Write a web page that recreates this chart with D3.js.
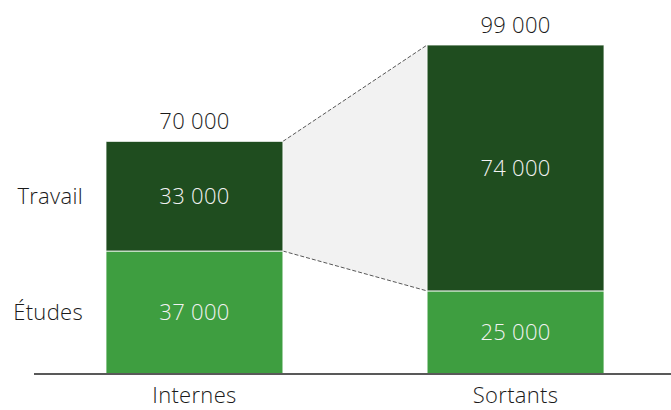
<!DOCTYPE html>
<html>
<head>
<meta charset="utf-8">
<script src="https://cdn.jsdelivr.net/npm/d3@7"></script>
<style>
  body { margin: 0; background: #fff; }
  svg text { font-family: "Segoe UI", "Open Sans", "Noto Sans", sans-serif; font-weight: 300; letter-spacing: 0.3px; }
</style>
</head>
<body>
<div></div>
<script>
var width = 671;
var height = 410;

// data
var categories = ["Internes", "Sortants"];
var series = ["Études", "Travail"];
var etudes = [37000, 25000];
var travail = [33000, 74000];
var totals = [70000, 99000];

var colors = {"Études": "#3e9e40", "Travail": "#1f4d1f"};

var rows = categories.map(function(c, i) {
  return {cat: c, "Études": etudes[i], "Travail": travail[i], total: totals[i]};
});
var stacked = d3.stack().keys(series)(rows);

var x = d3.scaleBand()
  .domain(categories)
  .range([106, 604])
  .paddingInner(0.449)
  .paddingOuter(0);

var y = d3.scaleLinear()
  .domain([0, 99000])
  .range([374, 45]);

var fmt = function(v) { return d3.format(",")(v).replace(/,/g, " "); };

var svg = d3.select("div")
  .append("svg")
  .attr("width", width)
  .attr("height", height);

// connector between the two bars (Travail part)
var a = categories[0], b = categories[1];
var x0 = x(a) + x.bandwidth(), x1 = x(b);
var topA = y(stacked[1][0][1]), botA = y(stacked[1][0][0]);
var topB = y(stacked[1][1][1]), botB = y(stacked[1][1][0]);

svg.append("path")
  .attr("d", "M" + x0 + "," + topA + "L" + x1 + "," + topB + "L" + x1 + "," + botB + "L" + x0 + "," + botA + "Z")
  .attr("fill", "#f2f2f2");

[[topA, topB], [botA, botB]].forEach(function(p) {
  svg.append("line")
    .attr("x1", x0).attr("y1", p[0])
    .attr("x2", x1).attr("y2", p[1])
    .attr("stroke", "#595959")
    .attr("stroke-width", 1)
    .attr("stroke-dasharray", "4,2");
});

// bars
var layer = svg.selectAll("g.layer")
  .data(stacked)
  .enter().append("g")
  .attr("class", "layer")
  .attr("fill", function(d) { return colors[d.key]; });

layer.selectAll("rect")
  .data(function(d) { return d; })
  .enter().append("rect")
  .attr("x", function(d) { return x(d.data.cat); })
  .attr("y", function(d) { return y(d[1]); })
  .attr("width", x.bandwidth())
  .attr("height", function(d) { return y(d[0]) - y(d[1]); })
  .attr("stroke", "#ffffff")
  .attr("stroke-opacity", 0.8)
  .attr("stroke-width", 1);

// value labels inside
layer.selectAll("text")
  .data(function(d) { return d; })
  .enter().append("text")
  .attr("x", function(d) { return x(d.data.cat) + x.bandwidth() / 2; })
  .attr("y", function(d) { return (y(d[0]) + y(d[1])) / 2; })
  .attr("dy", "0.35em")
  .attr("text-anchor", "middle")
  .attr("fill", "#f2f2f2")
  .style("font-size", "22px")
  .text(function(d) { return fmt(d[1] - d[0]); });

// totals
svg.selectAll("text.total")
  .data(rows)
  .enter().append("text")
  .attr("class", "total")
  .attr("x", function(d) { return x(d.cat) + x.bandwidth() / 2; })
  .attr("y", function(d) { return y(d.total) - 12; })
  .attr("text-anchor", "middle")
  .attr("fill", "#1a1a1a")
  .style("font-size", "22px")
  .text(function(d) { return fmt(d.total); });

// series labels on the left
svg.selectAll("text.series")
  .data(stacked)
  .enter().append("text")
  .attr("class", "series")
  .attr("x", 83)
  .attr("y", function(d) { return (y(d[0][0]) + y(d[0][1])) / 2; })
  .attr("dy", "0.35em")
  .attr("text-anchor", "end")
  .attr("fill", "#1a1a1a")
  .style("font-size", "22px")
  .text(function(d) { return d.key; });

// axis
var axis = svg.append("g")
  .attr("transform", "translate(0," + y(0) + ")")
  .call(d3.axisBottom(x).tickSize(0).tickPadding(13));
axis.select(".domain").remove();
axis.append("line")
  .attr("x1", 34).attr("x2", 671)
  .attr("stroke", "#595959")
  .attr("stroke-width", 2);
axis.selectAll(".tick text")
  .attr("fill", "#1a1a1a")
  .style("font-size", "22px")
  .style("font-family", "'Segoe UI', 'Open Sans', 'Noto Sans', sans-serif");
</script>
</body>
</html>
